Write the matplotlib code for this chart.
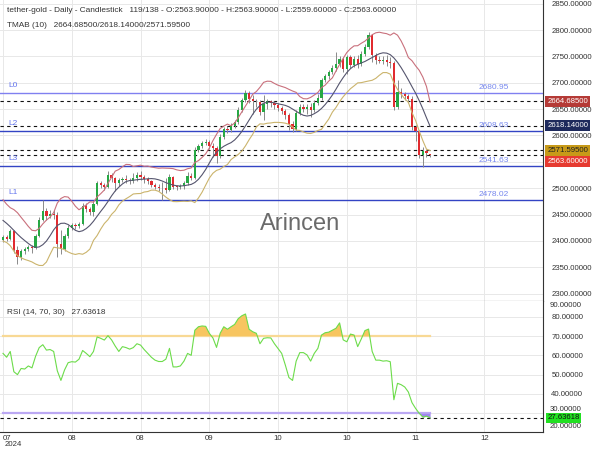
import numpy as np
import pandas as pd
import matplotlib
matplotlib.use("Agg")
import matplotlib.pyplot as plt
from matplotlib.transforms import blended_transform_factory

# daily candles (bar index 0..118)
opens = [2401, 2408, 2404, 2418, 2382, 2370, 2380, 2384, 2389, 2386,
         2410, 2440, 2456, 2448, 2452, 2449, 2395, 2385, 2410, 2424,
         2430, 2428, 2432, 2466, 2460, 2455, 2470, 2510, 2506, 2503,
         2525, 2519, 2510, 2516, 2518, 2515, 2513, 2520, 2525, 2522,
         2518, 2513, 2507, 2503, 2500, 2501, 2496, 2522, 2503, 2502,
         2504, 2510, 2524, 2520, 2572, 2580, 2586, 2588, 2580, 2576,
         2562, 2598, 2612, 2610, 2618, 2626, 2648, 2668, 2680, 2670,
         2665, 2664, 2644, 2660, 2665, 2662, 2657, 2652, 2646, 2638,
         2622, 2612, 2642, 2655, 2650, 2654, 2648, 2662, 2672, 2705,
         2712, 2720, 2728, 2735, 2745, 2726, 2748, 2734, 2745, 2736,
         2755, 2768, 2790, 2752, 2743, 2741, 2744, 2740, 2738, 2654,
         2683, 2678, 2675, 2670, 2616, 2608, 2563, 2570, 2563.9]
closes = [2408, 2404, 2418, 2382, 2370, 2380, 2384, 2389, 2386, 2410,
          2440, 2456, 2448, 2452, 2449, 2395, 2385, 2410, 2424, 2430,
          2428, 2432, 2466, 2460, 2455, 2470, 2510, 2506, 2503, 2525,
          2519, 2510, 2516, 2518, 2515, 2513, 2520, 2525, 2522, 2518,
          2513, 2507, 2503, 2500, 2501, 2496, 2522, 2503, 2502, 2504,
          2510, 2524, 2520, 2572, 2580, 2586, 2588, 2580, 2576, 2562,
          2598, 2612, 2610, 2618, 2626, 2648, 2668, 2680, 2670, 2665,
          2664, 2644, 2660, 2665, 2662, 2657, 2652, 2646, 2638, 2622,
          2612, 2642, 2655, 2650, 2654, 2648, 2662, 2672, 2705, 2712,
          2720, 2728, 2735, 2745, 2726, 2748, 2734, 2745, 2736, 2755,
          2768, 2790, 2752, 2743, 2741, 2744, 2740, 2738, 2654, 2683,
          2678, 2675, 2670, 2616, 2608, 2563, 2570, 2566, 2563.6]
highs = [2412, 2411, 2422, 2421, 2390, 2384, 2388, 2393, 2392, 2414,
         2446, 2478, 2462, 2458, 2458, 2454, 2420, 2414, 2430, 2434,
         2434, 2436, 2472, 2472, 2465, 2475, 2514, 2514, 2510, 2532,
         2528, 2522, 2520, 2522, 2525, 2520, 2528, 2530, 2532, 2526,
         2522, 2516, 2510, 2508, 2512, 2520, 2527, 2524, 2506, 2508,
         2514, 2530, 2528, 2578, 2584, 2590, 2593, 2592, 2585, 2580,
         2602, 2616, 2618, 2624, 2630, 2654, 2672, 2686, 2684, 2676,
         2670, 2667, 2677, 2670, 2668, 2665, 2662, 2656, 2650, 2642,
         2628, 2648, 2660, 2660, 2660, 2662, 2668, 2678, 2710, 2716,
         2724, 2733, 2758, 2750, 2748, 2752, 2752, 2750, 2752, 2760,
         2774, 2797, 2792, 2756, 2750, 2750, 2752, 2748, 2742, 2705,
         2690, 2682, 2678, 2675, 2620, 2610, 2578, 2574, 2563.9]
lows = [2398, 2400, 2402, 2378, 2357, 2364, 2376, 2380, 2378, 2384,
        2408, 2438, 2440, 2444, 2442, 2370, 2376, 2380, 2405, 2420,
        2422, 2424, 2430, 2455, 2450, 2448, 2468, 2500, 2497, 2500,
        2512, 2494, 2504, 2512, 2510, 2508, 2510, 2514, 2516, 2510,
        2508, 2503, 2498, 2494, 2478, 2490, 2494, 2498, 2497, 2498,
        2499, 2506, 2515, 2518, 2568, 2576, 2582, 2574, 2560, 2548,
        2558, 2594, 2604, 2606, 2614, 2622, 2645, 2664, 2662, 2640,
        2655, 2638, 2630, 2650, 2655, 2650, 2646, 2640, 2632, 2610,
        2606, 2608, 2638, 2644, 2640, 2636, 2644, 2658, 2668, 2702,
        2708, 2716, 2722, 2730, 2720, 2716, 2728, 2730, 2728, 2732,
        2750, 2765, 2740, 2736, 2738, 2736, 2732, 2728, 2648, 2650,
        2672, 2668, 2662, 2610, 2590, 2558, 2540, 2560, 2559.6]

# bars before the visible window (needed by the TMA bands)
pre_closes = [2400, 2410, 2420, 2430, 2445, 2455, 2458, 2450, 2440, 2430, 2418, 2410]
pre_ranges = [30, 28, 30, 30, 22, 20, 25, 35, 30, 35, 30, 20]

rsi = [61, 59, 62, 51.5, 50, 53.2, 52.9, 54.5, 53.5, 59.5,
       64, 65.5, 62.7, 63, 62, 52, 47, 52.4, 56.2, 56.7,
       56.5, 58, 62.5, 61, 59.3, 62, 69.5, 68.8, 67.9, 70.2,
       68, 64.8, 62, 64.5, 64, 63.2, 64, 66, 65.3, 63,
       61, 59, 57.5, 56.8, 56.8, 58, 63.6, 54, 54, 54.5,
       57, 61, 60, 73, 74.8, 75.2, 75, 71.4, 69, 64.1,
       71.4, 74.8, 73.5, 74.8, 76, 79, 80.5, 81.4, 73.5, 72.2,
       71.4, 66, 68.8, 69.1, 69, 66, 63.5, 61, 55, 48.5,
       47, 57, 61.4, 61.4, 60.2, 57, 61, 63.6, 70.5, 71.7,
       72, 73, 74, 76.8, 68, 67, 71, 70.5, 64.5, 68.5,
       72.8, 73.6, 62, 57.5, 57.5, 57, 57.2, 56.7, 37, 45.5,
       44.8, 43.6, 41, 35.5, 32.5, 30, 28, 28.5, 27.63618]

levels = {"L0": 2680.95, "L2": 2608.63, "L3": 2541.63, "L1": 2478.02}
tick_pos = [0, 19, 38, 57, 76, 95, 114, 133]
tick_lab = ["07", "08", "08", "09", "10", "10", "11", "12"]

n = len(closes)
x = np.arange(n)

# TMA bands (10)
allc = pd.Series(pre_closes + closes, dtype=float)
rng = pd.Series(pre_ranges + list(np.array(highs) - np.array(lows)), dtype=float)
mid = allc.rolling(5).mean().rolling(6).mean()
atr = rng.rolling(10).mean()
k = 1.5
mid = mid.values[len(pre_closes):]
up = mid + k * atr.values[len(pre_closes):]
lo = mid - k * atr.values[len(pre_closes):]

plt.rcParams['font.family'] = ['Liberation Sans', 'DejaVu Sans']
txt = '#333333'
fig = plt.figure(figsize=(6, 4.5), dpi=100)
ax = fig.add_axes([0, 0.331, 0.905, 0.669])
ax2 = fig.add_axes([0, 0.04, 0.905, 0.291], sharex=ax)

# candles
up_c = np.array(closes) >= np.array(opens)
ax.vlines(x, lows, highs, color='#8a8a8a', lw=0.7, zorder=3)
body = np.array(closes) - np.array(opens)
body = np.where(np.abs(body) < 1.2, 1.2, body)
ax.bar(x, body, bottom=opens, width=0.62,
       color=np.where(up_c, '#27a844', '#e12b2f'), zorder=4)

ax.plot(x, up, color='#c9707c', lw=0.8, zorder=5)
ax.plot(x, mid, color='#55556e', lw=0.8, zorder=5)
ax.plot(x, lo, color='#cbb46c', lw=0.8, zorder=5)

for name, v in levels.items():
    c = '#8080f0' if name == 'L0' else '#3344c4'
    ax.axhline(v, color=c, lw=1.0, zorder=2)
    ax.text(1.5, v + 8, name, color='#6677ee', fontsize=6, va='bottom')
    ax.text(135.6, v + 4, f"{v:.2f}", color='#7788ee', fontsize=6,
            ha='center', va='bottom')

for v in [2664.685, 2618.14, 2571.595, 2563.6]:
    ax.axhline(v, color='#111111', lw=0.8, ls=(0, (3, 3)), zorder=2)

ax.text(300 / 3.62 - 0.8, 2800 - (224 - 30) / 0.5267, "Arincen", fontsize=17,
        color='#6b6b6b', ha='center', va='center', zorder=6)

ax.set_ylim(2286, 2857)
ax.set_yticks(np.arange(2300, 2851, 50))
# the 2550 label sits under the last-price box
ax.yaxis.set_major_formatter(
    plt.FuncFormatter(lambda v, p: "" if round(v) == 2550 else f"{v:.5f}"))
ax.set_xlim(-0.83, 149.2)

# price boxes on the right axis
tb = blended_transform_factory(ax.transAxes, ax.transData)
for v, val, fc, tc in [(2664.685, "2664.68500", '#b53a36', 'white'),
                        (2618.14, "2618.14000", '#1e2a5c', 'white'),
                        (2572.2, "2571.59500", '#c79a18', '#222222'),
                        (2550.5, "2563.60000", '#e63a30', 'white')]:
    ax.text(1.008, v, val, transform=tb, fontsize=5.6, color=tc, va='center',
            ha='left', zorder=10, clip_on=False,
            bbox=dict(boxstyle='square,pad=0.25', fc=fc, ec='none'))

# RSI panel
ax2.plot(x, rsi, color='#6cdc4a', lw=0.8, zorder=4)
r = np.array(rsi)
ax2.fill_between(x, r, 70, where=r > 70, interpolate=True,
                 color='#f7c560', lw=0, zorder=3)
ax2.fill_between(x, r, 30, where=r < 30, interpolate=True,
                 color='#a086f0', lw=0, zorder=3)
ax2.plot([x[0], x[-1]], [70, 70], color='#f8d995', lw=1.6, zorder=2)
ax2.plot([x[0], x[-1]], [30, 30], color='#bba8f3', lw=1.6, zorder=2)
ax2.axhline(27.63618, color='#111111', lw=0.8, ls=(0, (3, 3)), zorder=2)
ax2.set_ylim(20.3, 88.1)
ax2.set_yticks(np.arange(30, 81, 10))
# 30 label is squeezed above the RSI box, as in the reference
ax2.yaxis.set_major_formatter(
    plt.FuncFormatter(lambda v, p: "" if round(v) == 30 else f"{v:.5f}"))
tb2 = blended_transform_factory(ax2.transAxes, ax2.transData)
for yv, lab in [(86.0, "90.00000"), (32.0, "30.00000"), (23.4, "20.00000")]:
    ax2.text(1.012, yv, lab, transform=tb2, fontsize=5.6, color=txt,
             va='center', clip_on=False)
ax2.text(1.008, 27.63618, "27.63618", transform=tb2, fontsize=5.6,
         color='#111111', va='center', clip_on=False, zorder=10,
         bbox=dict(boxstyle='square,pad=0.2', fc='#22e022', ec='none'))
ax2.text(0.013, 0.915, "RSI (14, 70, 30)   27.63618", transform=ax2.transAxes,
         fontsize=5.9, color=txt, va='center')

for a in (ax, ax2):
    a.yaxis.tick_right()
    a.tick_params(axis='y', length=0, pad=6, labelsize=5.6, labelcolor=txt)
    a.grid(True, color='#e8e8e8', lw=0.7)
    a.set_axisbelow(True)
    for s in ('left', 'top'):
        a.spines[s].set_visible(False)
    a.spines['right'].set_color('#333333')
    a.spines['bottom'].set_color('#333333')
ax.tick_params(axis='x', length=0, labelbottom=False)
ax2.set_xticks(tick_pos)
ax2.set_xticklabels(tick_lab)
ax2.tick_params(axis='x', length=0, pad=2, labelsize=5.6, labelcolor=txt)
ax2.get_xticklabels()[0].set_horizontalalignment('left')
fig.text(5 / 600, 1 - 445 / 450, "2024", fontsize=5.6, color=txt, va='center')

fig.text(7 / 600, 1 - 10.7 / 450,
         "tether-gold - Daily - Candlestick   119/138 - O:2563.90000 - "
         "H:2563.90000 - L:2559.60000 - C:2563.60000",
         fontsize=5.95, color=txt, va='center')
fig.text(7 / 600, 1 - 25.3 / 450,
         "TMAB (10)   2664.68500/2618.14000/2571.59500",
         fontsize=5.95, color=txt, va='center')

fig.savefig("out.png", dpi=100)
